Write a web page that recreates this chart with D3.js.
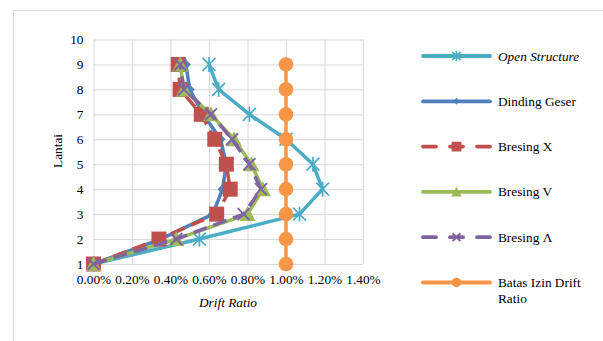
<!DOCTYPE html>
<html>
<head>
<meta charset="utf-8">
<script src="https://cdn.jsdelivr.net/npm/d3@7"></script>
<style>
  body { margin: 0; background: #fff; }
  svg { font-family: "Liberation Serif", "Times New Roman", serif; }
</style>
</head>
<body>
<svg id="chart" width="603" height="341"></svg>
<script>
// floors (Lantai) and drift ratio per series
var floors = [1, 2, 3, 4, 5, 6, 7, 8, 9];
var openStructure = [0, 0.0055, 0.0107, 0.0119, 0.0114, 0.0100, 0.0081, 0.0065, 0.0060];
var dindingGeser  = [0, 0.0035, 0.0062, 0.0067, 0.0069, 0.0066, 0.0057, 0.0050, 0.0048];
var bresingX      = [0, 0.0034, 0.0064, 0.0071, 0.0069, 0.0063, 0.0056, 0.0045, 0.0044];
var bresingV      = [0, 0.0043, 0.0080, 0.0088, 0.0082, 0.0073, 0.0061, 0.0047, 0.0045];
var bresingL      = [0, 0.0043, 0.0078, 0.0087, 0.0081, 0.0072, 0.0061, 0.0047, 0.0045];
var batasIzin     = [0.01, 0.01, 0.01, 0.01, 0.01, 0.01, 0.01, 0.01, 0.01];

var xTicks = [0, 0.002, 0.004, 0.006, 0.008, 0.010, 0.012, 0.014];
var yTicks = [1, 2, 3, 4, 5, 6, 7, 8, 9, 10];

var series = [
  {name: "Open Structure", values: openStructure, color: "#4BACC6", marker: "star", dash: null, italic: true},
  {name: "Dinding Geser", values: dindingGeser, color: "#4F81BD", marker: "diamond", dash: null},
  {name: "Bresing X", values: bresingX, color: "#C0504D", marker: "square", dash: "14,7"},
  {name: "Bresing V", values: bresingV, color: "#9BBB59", marker: "triangle", dash: null},
  {name: "Bresing \u039B", values: bresingL, color: "#8064A2", marker: "x", dash: "14,7"},
  {name: "Batas Izin Drift", name2: "Ratio", values: batasIzin, color: "#F79646", marker: "circle", dash: null}
];

var fontSize = "13.3px";
var svg = d3.select("#chart");

// outer chart border
svg.append("rect")
    .attr("x", 13.5).attr("y", 10.5)
    .attr("width", 640).attr("height", 400)
    .attr("fill", "none").attr("stroke", "#D9D9D9");

var x = d3.scaleLinear().domain([0, 0.014]).range([93.5, 363]);
var y = d3.scaleLinear().domain([1, 10]).range([264, 39.5]);

// gridlines
svg.append("g")
    .attr("transform", "translate(0,264)")
    .call(d3.axisBottom(x).tickValues(xTicks).tickSize(-(264 - 39.5)).tickFormat(""))
    .call(function(g) {
      g.select(".domain").remove();
      g.selectAll("line").attr("stroke", "#D9D9D9");
    });
svg.append("g")
    .attr("transform", "translate(93.5,0)")
    .call(d3.axisLeft(y).tickValues(yTicks).tickSize(-(363 - 93.5)).tickFormat(""))
    .call(function(g) {
      g.select(".domain").remove();
      g.selectAll("line").attr("stroke", "#D9D9D9");
    });

// tick labels
svg.append("g")
    .attr("transform", "translate(0,264)")
    .call(d3.axisBottom(x).tickValues(xTicks).tickSize(0).tickPadding(11).tickFormat(d3.format(".2%")))
    .call(function(g) {
      g.select(".domain").remove();
      g.selectAll("text").attr("font-size", fontSize).attr("fill", "#000")
        .attr("font-family", "Liberation Serif, serif");
    });
svg.append("g")
    .attr("transform", "translate(93.5,0)")
    .call(d3.axisLeft(y).tickValues(yTicks).tickSize(0).tickPadding(10))
    .call(function(g) {
      g.select(".domain").remove();
      g.selectAll("text").attr("font-size", fontSize).attr("fill", "#000")
        .attr("font-family", "Liberation Serif, serif");
    });

// axis titles
svg.append("text")
    .attr("x", 228).attr("y", 307)
    .attr("text-anchor", "middle")
    .attr("font-size", fontSize).attr("font-style", "italic")
    .text("Drift Ratio");
svg.append("text")
    .attr("transform", "translate(62,151) rotate(-90)")
    .attr("text-anchor", "middle")
    .attr("font-size", fontSize)
    .text("Lantai");

function drawMarker(g, type, color, cx, cy, k) {
  k = k || 1;
  if (type === "star") {
    var s = 6.5 * k;
    g.append("path")
      .attr("d", "M" + (cx - s) + "," + (cy - s) + "L" + (cx + s) + "," + (cy + s) +
                 "M" + (cx - s) + "," + (cy + s) + "L" + (cx + s) + "," + (cy - s) +
                 "M" + cx + "," + (cy - s - 1) + "L" + cx + "," + (cy + s + 1))
      .attr("stroke", color).attr("stroke-width", 1.7).attr("fill", "none");
  } else if (type === "x") {
    var s2 = 6 * k;
    g.append("path")
      .attr("d", "M" + (cx - s2) + "," + (cy - s2) + "L" + (cx + s2) + "," + (cy + s2) +
                 "M" + (cx - s2) + "," + (cy + s2) + "L" + (cx + s2) + "," + (cy - s2))
      .attr("stroke", color).attr("stroke-width", 2).attr("fill", "none");
  } else if (type === "square") {
    var h = 7.5 * k;
    g.append("rect")
      .attr("x", cx - h).attr("y", cy - h).attr("width", 2 * h).attr("height", 2 * h)
      .attr("fill", color);
  } else if (type === "triangle") {
    g.append("path")
      .attr("d", "M" + cx + "," + (cy - 8 * k) + "L" + (cx + 8 * k) + "," + (cy + 7 * k) + "L" + (cx - 8 * k) + "," + (cy + 7 * k) + "Z")
      .attr("fill", color);
  } else if (type === "diamond") {
    var d = 5 * k;
    g.append("path")
      .attr("d", "M" + cx + "," + (cy - d) + "L" + (cx + d) + "," + cy + "L" + cx + "," + (cy + d) + "L" + (cx - d) + "," + cy + "Z")
      .attr("fill", color);
  } else if (type === "circle") {
    g.append("circle").attr("cx", cx).attr("cy", cy).attr("r", 7.3 * k).attr("fill", color);
  }
}

var line = d3.line()
    .x(function(d) { return x(d.v); })
    .y(function(d) { return y(d.f); });

series.forEach(function(s) {
  var pts = floors.map(function(f, i) { return {f: f, v: s.values[i]}; });
  var g = svg.append("g");
  g.append("path")
      .datum(pts)
      .attr("d", line)
      .attr("fill", "none")
      .attr("stroke", s.color)
      .attr("stroke-width", 3.5)
      .attr("stroke-linejoin", "round")
      .attr("stroke-dasharray", s.dash);
  pts.forEach(function(p) { drawMarker(g, s.marker, s.color, x(p.v), y(p.f)); });
});

// legend
var legend = svg.append("g");
series.forEach(function(s, i) {
  var ly = 56 + i * 45.3;
  var g = legend.append("g");
  var segs = s.dash ? [[423, 436], [450, 463], [477, 490]] : [[423, 490]];
  segs.forEach(function(sg) {
    g.append("line")
        .attr("x1", sg[0]).attr("x2", sg[1]).attr("y1", ly).attr("y2", ly)
        .attr("stroke", s.color).attr("stroke-width", 3.8)
        .attr("stroke-linecap", "round");
  });
  drawMarker(g, s.marker, s.color, 456.5, ly, 0.65);
  g.append("text")
      .attr("x", 498).attr("y", ly + 4.5)
      .attr("font-size", fontSize)
      .attr("font-style", s.italic ? "italic" : null)
      .text(s.name);
  if (s.name2) {
    g.append("text")
        .attr("x", 498).attr("y", ly + 20.5)
        .attr("font-size", fontSize)
        .text(s.name2);
  }
});
</script>
</body>
</html>
